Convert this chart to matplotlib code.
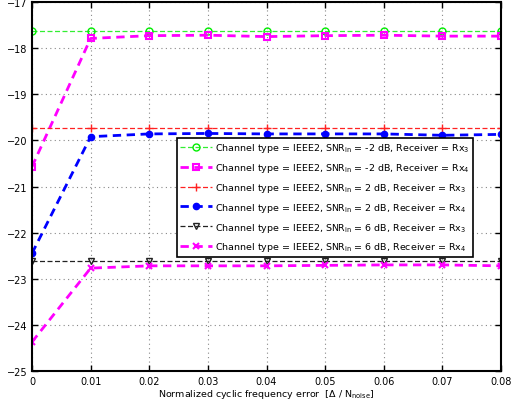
import numpy as np
import matplotlib.pyplot as plt

x = [0, 0.01, 0.02, 0.03, 0.04, 0.05, 0.06, 0.07, 0.08]
snr_m2_rx3 = [-17.63] * 9
snr_m2_rx4 = [-20.57, -17.79, -17.73, -17.72, -17.75, -17.73, -17.72, -17.74, -17.74]
snr_2_rx3 = [-19.73] * 9
snr_2_rx4 = [-22.45, -19.92, -19.86, -19.85, -19.86, -19.86, -19.86, -19.89, -19.87]
snr_6_rx3 = [-22.62] * 9
snr_6_rx4 = [-24.37, -22.77, -22.72, -22.72, -22.72, -22.71, -22.70, -22.70, -22.72]

fig = plt.figure(figsize=(5.15, 4.10), dpi=100)
ax = fig.add_axes([32/515, 1 - 372/410, 469/515, 369/410])

lab = "Channel type = IEEE2, SNR$_{\\rm in}$ = %s dB, Receiver = Rx$_{%d}$"
ax.plot(x, snr_m2_rx3, ls=(0, (4, 2)), color="#33ee33", lw=0.9, marker="o", ms=5,
        mfc="none", mec="#00ee00", label=lab % ("-2", 3))
ax.plot(x, snr_m2_rx4, ls=(0, (3, 2)), color="#ff00ff", lw=2, marker="s", ms=4.5,
        mfc="none", mec="#ff00ff", mew=1.5, label=lab % ("-2", 4))
ax.plot(x, snr_2_rx3, ls=(0, (4, 2)), color="#ff2222", lw=0.9, marker="+", ms=6,
        label=lab % ("2", 3))
ax.plot(x, snr_2_rx4, ls=(0, (3, 2)), color="#0000ff", lw=2, marker="o", ms=4.5,
        label=lab % ("2", 4))
ax.plot(x, snr_6_rx3, ls=(0, (4, 2)), color="#222222", lw=0.9, marker="v", ms=5,
        mfc="none", label=lab % ("6", 3))
ax.plot(x, snr_6_rx4, ls=(0, (3, 2)), color="#ff00ff", lw=2, marker="x", ms=4,
        mew=1.5, label=lab % ("6", 4))

ax.set_xlim(0, 0.08)
ax.set_ylim(-25, -17)
ax.set_xticks(x)
ax.set_xticklabels(["0"] + ["%.2f" % v for v in x[1:]])
ax.set_yticks(np.arange(-25, -16, 1))
ax.tick_params(labelsize=7, direction="in", length=4, width=1, top=True, right=True)
ax.grid(True, ls=(0, (1, 3)), color="#888888", lw=0.8)
for s in ax.spines.values():
    s.set_linewidth(1.5)
ax.set_xlabel("Normalized cyclic frequency error  [$\\Delta$ / N$_{\\rm noise}$]",
              fontsize=6.8, labelpad=1)

leg = ax.legend(loc="upper left", bbox_to_anchor=(145/469, 1 - 136/369), fontsize=6.8,
                fancybox=False, edgecolor="black", framealpha=1, handlelength=3.4,
                borderpad=0.35, labelspacing=0.72, handletextpad=0.3, borderaxespad=0)
leg.get_frame().set_linewidth(1.2)

fig.savefig("out.png", dpi=100)
